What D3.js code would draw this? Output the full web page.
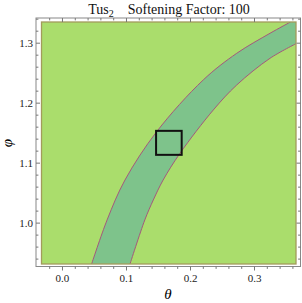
<!DOCTYPE html>
<meta charset="utf-8">
<head>
<style>
  body { margin: 0; background: #fff; }
  .tick text { font: 11px "Liberation Serif", serif; fill: #222; }
  .axis path.domain { stroke: none; }
  .axis line { stroke: #777; }
</style>
</head>
<body>
<script src="https://cdnjs.cloudflare.com/ajax/libs/d3/7.8.5/d3.min.js"></script>
<script>
// values
const phiLeft   = [0.930, 1.0045, 1.071, 1.1517, 1.238, 1.2823, 1.3157, 1.3345];
const thetaLeft = [0.046, 0.0705, 0.0984, 0.148, 0.2208, 0.273, 0.325, 0.357];
const phiRight   = [0.930, 1.0045, 1.0378, 1.071, 1.1157, 1.1878, 1.2295, 1.274, 1.2985];
const thetaRight = [0.106, 0.1294, 0.1427, 0.158, 0.1844, 0.2364, 0.2730, 0.325, 0.366];
const boxCenter = [0.167, 1.133];
const boxHalf = 0.02;
const xTicks = [0.0, 0.1, 0.2, 0.3];
const yTicks = [1.0, 1.1, 1.2, 1.3];

const W = 302, H = 303;
const plot = {left: 41.5, right: 296, top: 22, bottom: 264};

const x = d3.scaleLinear().domain([-0.032, 0.3656]).range([plot.left, plot.right]);
const y = d3.scaleLinear().domain([0.931, 1.3345]).range([plot.bottom, plot.top]);

const svg = d3.select("body").append("svg")
  .attr("width", W).attr("height", H);

svg.append("defs").append("clipPath").attr("id", "clip")
  .append("rect")
    .attr("x", plot.left).attr("y", plot.top)
    .attr("width", plot.right - plot.left).attr("height", plot.bottom - plot.top);

// background region
svg.append("rect")
  .attr("x", plot.left).attr("y", plot.top)
  .attr("width", plot.right - plot.left).attr("height", plot.bottom - plot.top)
  .style("fill", "#aadd6c");

const left = phiLeft.map((p, i) => [thetaLeft[i], p]);
const right = phiRight.map((p, i) => [thetaRight[i], p]);

const line = d3.line().x(d => x(d[0])).y(d => y(d[1])).curve(d3.curveCatmullRom.alpha(0.5));

// band polygon: left edge up, around the top-right corner, right edge down
const [xMin, xMax] = x.domain(), [yMin, yMax] = y.domain();
const bandPath = line(left) +
  "L" + (x(xMax) + 2) + "," + (y(yMax) - 2) +
  "L" + (x(xMax) + 2) + "," + y(phiRight[phiRight.length - 1]) +
  line(right.slice().reverse()).replace(/^M/, "L") + "Z";

const g = svg.append("g").attr("clip-path", "url(#clip)");
g.append("path").attr("d", bandPath).style("fill", "#7ec38b");
[left, right].forEach(pts => {
  g.append("path").attr("d", line(pts))
    .style("fill", "none").style("stroke", "#a4587c").style("stroke-width", 1);
});

// olive border of the region
svg.append("rect")
  .attr("x", plot.left).attr("y", plot.top)
  .attr("width", plot.right - plot.left).attr("height", plot.bottom - plot.top)
  .style("fill", "none").style("stroke", "#a39b5c").style("stroke-width", 1.3);

// square marker
svg.append("rect")
  .attr("x", x(boxCenter[0] - boxHalf)).attr("y", y(boxCenter[1] + boxHalf))
  .attr("width", x(boxCenter[0] + boxHalf) - x(boxCenter[0] - boxHalf))
  .attr("height", y(boxCenter[1] - boxHalf) - y(boxCenter[1] + boxHalf))
  .style("fill", "none").style("stroke", "#111").style("stroke-width", 2);

// frame
const fr = {left: 36, right: 300.5, top: 18, bottom: 266.5};
svg.append("rect")
  .attr("x", fr.left).attr("y", fr.top)
  .attr("width", fr.right - fr.left).attr("height", fr.bottom - fr.top)
  .style("fill", "none").style("stroke", "#888").style("stroke-width", 1);

const minorX = d3.range(-0.02, 0.37, 0.02).filter(v => Math.abs(v * 10 - Math.round(v * 10)) > 1e-6);
const minorY = d3.range(0.94, 1.34, 0.02).filter(v => Math.abs(v * 10 - Math.round(v * 10)) > 1e-6);

function drawAxis(axisFn, scale, ticks, minor, tx, ty, size, labels) {
  const a = svg.append("g").attr("class", "axis").attr("transform", `translate(${tx},${ty})`);
  a.call(axisFn(scale).tickValues(ticks).tickSize(size).tickPadding(labels ? 4 : 0)
    .tickFormat(labels ? d3.format(".1f") : ""));
  const m = svg.append("g").attr("class", "axis").attr("transform", `translate(${tx},${ty})`);
  m.call(axisFn(scale).tickValues(minor).tickSize(size * 0.6).tickFormat(""));
  return a;
}

drawAxis(d3.axisBottom, x, xTicks, minorX, 0, fr.bottom, 4, true);
drawAxis(d3.axisTop, x, xTicks, minorX, 0, fr.top, -4, false);
drawAxis(d3.axisLeft, y, yTicks, minorY, fr.left, 0, -4, true)
  .selectAll(".tick text").attr("x", -3);
drawAxis(d3.axisRight, y, yTicks, minorY, fr.right, 0, -4, false);

// title
const title = svg.append("text")
  .attr("x", 169).attr("y", 14).attr("text-anchor", "middle")
  .style("font", "14px 'Liberation Serif', serif").style("fill", "#111");
title.append("tspan").text("Tus");
title.append("tspan").attr("dy", 3).style("font-size", "10px").text("2");
title.append("tspan").attr("dy", -3).text("\u2003Softening Factor: 100");

// axis labels
svg.append("text")
  .attr("x", 168).attr("y", 299).attr("text-anchor", "middle")
  .style("font", "italic 15px 'Liberation Serif', serif").text("θ");
svg.append("text")
  .attr("transform", "translate(12,143) rotate(-90)").attr("text-anchor", "middle")
  .style("font", "italic 15px 'Liberation Serif', serif").text("φ");
</script>
</body>
